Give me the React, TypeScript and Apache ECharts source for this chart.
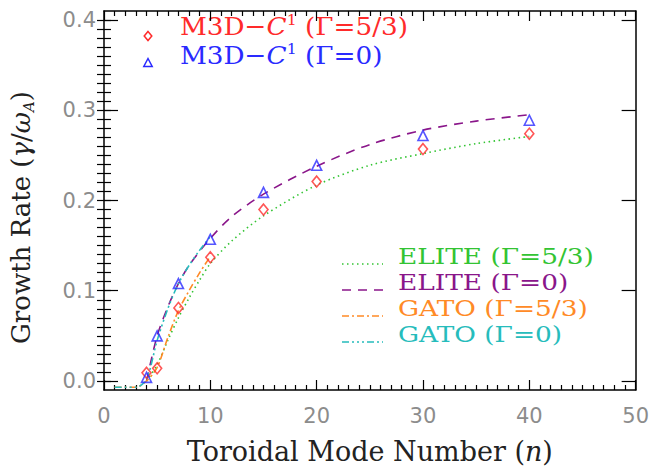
import React, { useEffect, useRef } from 'react';
import * as echarts from 'echarts';

// ---- data ----
const markerN = [4, 5, 7, 10, 15, 20, 30, 40];
const m3dGamma53 = [0.009, 0.014, 0.081, 0.137, 0.19, 0.221, 0.257, 0.274];
const m3dGamma0 = [0.004, 0.05, 0.108, 0.157, 0.209, 0.239, 0.272, 0.289];

const eliteN53 = [4, 5, 6, 7, 8, 9, 10, 12, 15, 20, 25, 30, 35, 40];
const eliteGamma53 = [0.0, 0.018, 0.045, 0.07, 0.092, 0.112, 0.13, 0.155, 0.183, 0.217, 0.239, 0.252, 0.263, 0.271];

const eliteN0 = [4, 5, 6, 7, 8, 10, 12, 15, 20, 25, 30, 35, 40];
const eliteGamma0 = [0.0, 0.05, 0.082, 0.108, 0.128, 0.158, 0.182, 0.207, 0.238, 0.262, 0.278, 0.288, 0.295];

const gatoN = [1, 2, 3, 4, 5, 6, 7, 8, 9, 10];
const gatoGamma53 = [-0.007, -0.007, -0.007, 0.0, 0.015, 0.048, 0.078, 0.1, 0.12, 0.138];
const gatoGamma0 = [-0.007, -0.007, -0.007, 0.002, 0.045, 0.08, 0.108, 0.128, 0.145, 0.16];

const yMajorTicks = [0, 0.1, 0.2, 0.3, 0.4];
const yTickLabels = ['0.0', '0.1', '0.2', '0.3', '0.4'];
const xTickLabels = ['0', '10', '20', '30', '40', '50'];

const yMinorTicks: number[] = [];
for (let i = 0; i <= 40; i++) yMinorTicks.push(+(i * 0.01).toFixed(2));

const C = {
  red: '#ff2a2a',
  blue: '#2a2aff',
  green: '#33c433',
  purple: '#8a168a',
  orange: '#ff8a26',
  cyan: '#26bcbc',
};

const SERIF = "'DejaVu Serif', 'Liberation Serif', serif";
const SANS = "'DejaVu Sans', sans-serif";

const pairs = (xs: number[], ys: number[]) => xs.map((x, i) => [x, ys[i]]);

const DASH = {
  dotted: [1.5, 3.5],
  dashed: [9, 7],
  dashDot: [7, 3, 2, 3],
  dashDot3: [7, 3, 2, 3, 2, 3, 2, 3],
};

function legendRich(color: string, size: number) {
  return {
    a: { fontFamily: SERIF, fontSize: size, fill: color, lineHeight: 26 },
    i: { fontFamily: SERIF, fontSize: size, fill: color, fontStyle: 'italic', lineHeight: 26 },
    s: { fontFamily: SERIF, fontSize: 15, fill: color, verticalAlign: 'top', lineHeight: 14 },
  };
}

export default function App() {
  const ref = useRef<HTMLDivElement>(null);
  useEffect(() => {
    if (!ref.current) return;
    const chart = echarts.init(ref.current, null, { renderer: 'svg' });

    const axisLineStyle = { color: '#000', width: 1.5 };
    const yRange = { min: -0.01, max: 0.41 };

    const option: any = {
      animation: false,
      backgroundColor: '#fff',
      grid: { left: 101, right: 13, top: 11, bottom: 78 },
      xAxis: [
        {
          type: 'value',
          position: 'bottom',
          min: 0,
          max: 50,
          interval: 10,
          axisLine: { show: true, onZero: false, lineStyle: axisLineStyle },
          axisTick: { show: true, inside: true, length: 10, lineStyle: { color: '#000', width: 1.2 } },
          minorTick: { show: true, splitNumber: 10, length: 5, lineStyle: { color: '#000', width: 1.2 } },
          splitLine: { show: false },
          axisLabel: {
            color: '#8c8c8c',
            fontFamily: SANS,
            fontSize: 21,
            margin: 15,
            formatter: (v: number) => xTickLabels[Math.round(v / 10)] ?? '',
          },
          name: '{a|Toroidal Mode Number (}{i|n}{a|)}',
          nameLocation: 'middle',
          nameGap: 48,
          nameTextStyle: {
            rich: {
              a: { fontFamily: SERIF, fontSize: 27, color: '#222' },
              i: { fontFamily: SERIF, fontSize: 27, color: '#222', fontStyle: 'italic' },
            },
          },
        },
        {
          type: 'value',
          position: 'top',
          min: 0,
          max: 50,
          interval: 10,
          axisLine: { show: true, onZero: false, lineStyle: axisLineStyle },
          axisTick: { show: true, inside: true, length: 10, lineStyle: { color: '#000', width: 1.2 } },
          minorTick: { show: true, splitNumber: 10, length: 5, lineStyle: { color: '#000', width: 1.2 } },
          splitLine: { show: false },
          axisLabel: { show: false },
        },
      ],
      yAxis: [
        {
          type: 'value',
          position: 'left',
          ...yRange,
          axisLine: { show: true, onZero: false, lineStyle: axisLineStyle },
          axisTick: { show: true, inside: true, length: 14, customValues: yMajorTicks, lineStyle: { color: '#000', width: 1.2 } },
          splitLine: { show: false },
          axisLabel: {
            customValues: yMajorTicks,
            color: '#8c8c8c',
            fontFamily: SANS,
            fontSize: 21,
            margin: 8,
            formatter: (v: number) => yTickLabels[Math.round(v * 10)] ?? '',
          },
          name: '{a|Growth Rate (}{i|γ}{a|/}{i|ω}{s|A}{a|)}',
          nameLocation: 'middle',
          nameGap: 68,
          nameTextStyle: {
            padding: [0, 34, 0, 0],
            rich: {
              a: { fontFamily: SERIF, fontSize: 26, color: '#222' },
              i: { fontFamily: SERIF, fontSize: 26, color: '#222', fontStyle: 'italic' },
              s: { fontFamily: SERIF, fontSize: 15, color: '#222', fontStyle: 'italic', verticalAlign: 'bottom', lineHeight: 30 },
            },
          },
        },
        {
          type: 'value',
          position: 'left',
          ...yRange,
          axisLine: { show: false },
          axisTick: { show: true, inside: true, length: 7, customValues: yMinorTicks, lineStyle: { color: '#000', width: 1.2 } },
          splitLine: { show: false },
          axisLabel: { show: false },
        },
        {
          type: 'value',
          position: 'right',
          ...yRange,
          axisLine: { show: true, onZero: false, lineStyle: axisLineStyle },
          axisTick: { show: true, inside: true, length: 14, customValues: yMajorTicks, lineStyle: { color: '#000', width: 1.2 } },
          splitLine: { show: false },
          axisLabel: { show: false },
        },
        {
          type: 'value',
          position: 'right',
          ...yRange,
          axisLine: { show: false },
          axisTick: { show: true, inside: true, length: 7, customValues: yMinorTicks, lineStyle: { color: '#000', width: 1.2 } },
          splitLine: { show: false },
          axisLabel: { show: false },
        },
      ],
      series: [
        {
          name: 'ELITE (Γ=5/3)',
          type: 'line',
          data: pairs(eliteN53, eliteGamma53),
          symbol: 'none',
          smooth: 0.3,
          lineStyle: { color: C.green, width: 1.6, type: DASH.dotted },
          z: 2,
        },
        {
          name: 'ELITE (Γ=0)',
          type: 'line',
          data: pairs(eliteN0, eliteGamma0),
          symbol: 'none',
          smooth: 0.3,
          lineStyle: { color: C.purple, width: 1.6, type: DASH.dashed },
          z: 2,
        },
        {
          name: 'GATO (Γ=5/3)',
          type: 'line',
          data: pairs(gatoN, gatoGamma53),
          symbol: 'none',
          smooth: 0.3,
          lineStyle: { color: C.orange, width: 1.6, type: DASH.dashDot },
          z: 2,
        },
        {
          name: 'GATO (Γ=0)',
          type: 'line',
          data: pairs(gatoN, gatoGamma0),
          symbol: 'none',
          smooth: 0.3,
          lineStyle: { color: C.cyan, width: 1.6, type: DASH.dashDot3 },
          z: 2,
        },
        {
          name: 'M3D-C1 (Γ=5/3)',
          type: 'scatter',
          data: pairs(markerN, m3dGamma53),
          symbol: 'diamond',
          symbolSize: [9, 11],
          itemStyle: { color: 'rgba(255,255,255,0)', borderColor: C.red, borderWidth: 1.6 },
          z: 3,
        },
        {
          name: 'M3D-C1 (Γ=0)',
          type: 'scatter',
          data: pairs(markerN, m3dGamma0),
          symbol: 'triangle',
          symbolSize: [10, 10],
          itemStyle: { color: 'rgba(255,255,255,0)', borderColor: C.blue, borderWidth: 1.6 },
          z: 3,
        },
      ],
      graphic: [
        // top-left legend (symbols)
        {
          type: 'polygon',
          x: 148,
          y: 36,
          shape: { points: [[0, -4.5], [3.8, 0], [0, 4.5], [-3.8, 0]] },
          style: { fill: 'none', stroke: C.red, lineWidth: 1.5 },
        },
        {
          type: 'polygon',
          x: 148,
          y: 63,
          shape: { points: [[0, -4.5], [4.2, 3.5], [-4.2, 3.5]] },
          style: { fill: 'none', stroke: C.blue, lineWidth: 1.5 },
        },
        {
          type: 'text',
          x: 180,
          y: 26,
          scaleX: 1.05,
          style: {
            text: '{a|M3D−}{i|C}{s|1}{a| (Γ=5/3)}',
            verticalAlign: 'middle',
            rich: legendRich(C.red, 25),
          },
        },
        {
          type: 'text',
          x: 180,
          y: 55,
          scaleX: 1.05,
          style: {
            text: '{a|M3D−}{i|C}{s|1}{a| (Γ=0)}',
            verticalAlign: 'middle',
            rich: legendRich(C.blue, 25),
          },
        },
        // bottom-right legend (lines)
        ...[
          { label: 'ELITE (Γ=5/3)', color: C.green, dash: DASH.dotted, ty: 256 },
          { label: 'ELITE (Γ=0)', color: C.purple, dash: DASH.dashed, ty: 282 },
          { label: 'GATO (Γ=5/3)', color: C.orange, dash: DASH.dashDot, ty: 308 },
          { label: 'GATO (Γ=0)', color: C.cyan, dash: DASH.dashDot3, ty: 334 },
        ].flatMap((it) => [
          {
            type: 'line',
            shape: { x1: 342, y1: it.ty + 8, x2: 383, y2: it.ty + 8 },
            style: { stroke: it.color, lineWidth: 1.6, lineDash: it.dash },
          },
          {
            type: 'text',
            x: 398,
            y: it.ty,
            scaleX: 1.2,
            style: {
              text: it.label,
              verticalAlign: 'middle',
              fill: it.color,
              fontFamily: SERIF,
              fontSize: 22,
            },
          },
        ]),
      ],
    };

    chart.setOption(option);
    return () => chart.dispose();
  }, []);

  return (
    <div
      ref={ref}
      style={{ position: 'fixed', left: 0, top: 0, width: 652, height: 470, background: '#fff' }}
    />
  );
}
